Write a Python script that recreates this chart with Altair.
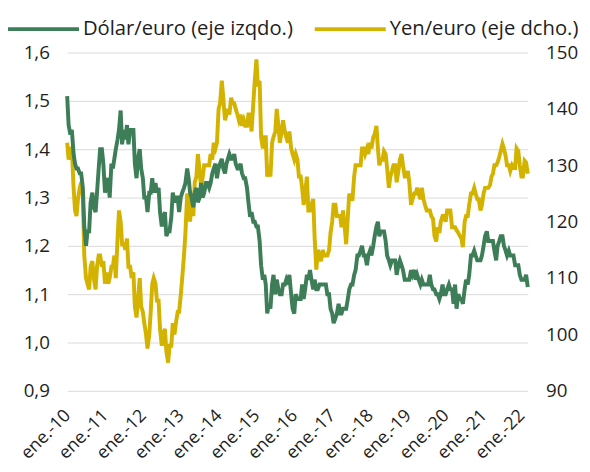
import altair as alt
import pandas as pd

# Semi-monthly readings (1st and 16th of each month), Dec-2009 .. Jan-2022, plus 31-Jan-2022
dolar_euro = (
    [1.51, 1.45]
    + [1.43, 1.44, 1.39, 1.37, 1.36, 1.36, 1.35, 1.35, 1.32, 1.24, 1.20, 1.23,
       1.23, 1.29, 1.31, 1.28, 1.27, 1.31, 1.36, 1.40, 1.40, 1.37, 1.31, 1.33]   # 2010
    + [1.34, 1.30, 1.37, 1.36, 1.38, 1.40, 1.42, 1.44, 1.48, 1.41, 1.44, 1.42,
       1.45, 1.41, 1.44, 1.44, 1.44, 1.37, 1.34, 1.38, 1.40, 1.36, 1.34, 1.30]   # 2011
    + [1.30, 1.27, 1.31, 1.31, 1.34, 1.31, 1.33, 1.31, 1.32, 1.27, 1.24, 1.26,
       1.27, 1.22, 1.23, 1.23, 1.26, 1.31, 1.29, 1.30, 1.30, 1.27, 1.30, 1.31]   # 2012
    + [1.32, 1.33, 1.36, 1.34, 1.31, 1.30, 1.28, 1.31, 1.32, 1.29, 1.30, 1.33,
       1.30, 1.31, 1.33, 1.33, 1.32, 1.33, 1.35, 1.36, 1.37, 1.34, 1.36, 1.37]   # 2013
    + [1.38, 1.36, 1.35, 1.37, 1.38, 1.39, 1.38, 1.38, 1.39, 1.37, 1.36, 1.36,
       1.37, 1.35, 1.34, 1.34, 1.32, 1.29, 1.26, 1.27, 1.25, 1.25, 1.24, 1.24]   # 2014
    + [1.21, 1.16, 1.13, 1.14, 1.12, 1.06, 1.08, 1.07, 1.12, 1.14, 1.10, 1.13,
       1.11, 1.10, 1.10, 1.12, 1.12, 1.13, 1.12, 1.14, 1.10, 1.07, 1.06, 1.10]   # 2015
    + [1.09, 1.09, 1.09, 1.12, 1.09, 1.11, 1.14, 1.13, 1.15, 1.13, 1.11, 1.13,
       1.11, 1.11, 1.12, 1.12, 1.12, 1.12, 1.12, 1.10, 1.10, 1.07, 1.06, 1.04]   # 2016
    + [1.05, 1.06, 1.08, 1.06, 1.06, 1.07, 1.07, 1.07, 1.09, 1.11, 1.12, 1.12,
       1.14, 1.15, 1.18, 1.18, 1.19, 1.20, 1.18, 1.18, 1.16, 1.18, 1.19, 1.18]   # 2017
    + [1.20, 1.22, 1.24, 1.25, 1.22, 1.23, 1.23, 1.23, 1.21, 1.18, 1.17, 1.16,
       1.17, 1.17, 1.17, 1.14, 1.16, 1.17, 1.16, 1.15, 1.13, 1.13, 1.13, 1.13]   # 2018
    + [1.15, 1.14, 1.15, 1.13, 1.14, 1.13, 1.12, 1.13, 1.12, 1.12, 1.12, 1.12,
       1.14, 1.12, 1.11, 1.11, 1.10, 1.10, 1.09, 1.10, 1.12, 1.10, 1.10, 1.11]   # 2019
    + [1.12, 1.11, 1.11, 1.08, 1.12, 1.07, 1.10, 1.09, 1.09, 1.08, 1.11, 1.13,
       1.12, 1.14, 1.18, 1.18, 1.19, 1.18, 1.17, 1.17, 1.17, 1.18, 1.20, 1.22]   # 2020
    + [1.23, 1.21, 1.21, 1.21, 1.21, 1.19, 1.17, 1.20, 1.21, 1.22, 1.22, 1.20,
       1.19, 1.18, 1.19, 1.18, 1.18, 1.18, 1.16, 1.16, 1.16, 1.14, 1.13, 1.13]   # 2021
    + [1.13, 1.14, 1.115]                                                        # 2022
)

yen_euro = (
    [134, 131]
    + [133, 133, 126, 122, 121, 124, 126, 127, 125, 114, 110, 109,
       108, 112, 113, 110, 108, 112, 114, 114, 112, 113, 109, 111]   # 2010
    + [109, 110, 112, 112, 114, 110, 117, 122, 120, 116, 116, 115,
       117, 112, 112, 110, 111, 105, 103, 106, 110, 105, 104, 102]   # 2011
    + [100, 97.5, 100, 104, 109, 110, 109, 106, 106, 101, 98, 100,
       101, 97, 95, 98, 98, 102, 100, 102, 104, 104, 107, 110]       # 2012
    + [114, 118, 125, 124, 120, 124, 121, 127, 128, 132, 129, 126,
       128, 130, 130, 130, 130, 132, 131, 134, 133, 134, 140, 141]   # 2013
    + [145, 142, 138, 139, 140, 139, 142, 141, 141, 140, 139, 138,
       139, 137, 138, 137, 137, 139, 139, 136, 141, 145, 148.8, 144] # 2014
    + [145, 135, 133, 135, 135, 128, 130, 128, 134, 135, 136, 140,
       137, 134, 136, 138, 136, 135, 134, 136, 133, 132, 131, 132]   # 2015
    + [131, 128, 128, 126, 123, 125, 128, 122, 122, 123, 124, 117,
       111.5, 115, 114, 113, 115, 114, 114, 114, 115, 118, 120, 123] # 2016
    + [123, 121, 121, 121, 119, 122, 119, 116, 121, 125, 124, 124,
       128, 130, 130, 130, 130, 133, 133, 132, 133, 132, 134, 133]   # 2017
    + [135, 135.5, 137, 133, 130, 131, 131, 132.5, 132, 129.5, 126, 128,
       129, 130, 130, 127, 129, 131, 132, 130, 128, 128, 129, 127]   # 2018
    + [123, 124, 125, 125, 126, 125, 124, 126, 124, 123, 122, 122,
       122, 121, 120.5, 117.5, 116.5, 119, 118, 120, 121, 121, 120, 122]  # 2019
    + [122, 122, 119, 119, 119, 118.5, 118, 117.5, 117, 115.5, 120, 121,
       121, 123, 125, 125, 126, 125, 124, 124, 122, 123, 125, 126]   # 2020
    + [126, 126, 126.5, 128, 128.5, 130, 130, 130.5, 131.5, 132.5, 133.8, 133,
       131.7, 130, 130, 129, 130, 129.5, 129.5, 133, 132.5, 130, 128, 128]  # 2021
    + [130.8, 130.5, 128.5]                                              # 2022
)

fechas = list(pd.date_range("2009-12-01", periods=len(dolar_euro) - 1, freq="SMS").strftime("%Y-%m-%d")) + ["2022-01-31"]

serie_usd = "Dólar/euro (eje izqdo.)"
serie_jpy = "Yen/euro (eje dcho.)"
colores = ["#3D7D57", "#D4B200"]

df = pd.DataFrame({"fecha": fechas, "usd": dolar_euro, "jpy": yen_euro})

FONT = "Open Sans"
TXT = "#1e1e1e"
years = list(range(2010, 2023))

x_enc = alt.X(
    "fecha:T",
    scale=alt.Scale(
        type="utc",
        domain=[alt.DateTime(year=2009, month=12, date=1, utc=True),
                alt.DateTime(year=2022, month=1, date=31, utc=True)],
        nice=False,
    ),
    axis=alt.Axis(
        values=[alt.DateTime(year=y, month=1, date=1, utc=True) for y in years],
        labelExpr="'ene.-' + utcFormat(datum.value, '%y')",
        labelAngle=-45, labelAlign="right", labelBaseline="middle",
        labelPadding=22, labelOffset=-3, ticks=False, domain=False, grid=False,
        labelFontSize=18, labelColor=TXT, title=None, labelOverlap=False,
    ),
)

color_scale = alt.Scale(domain=[serie_usd, serie_jpy], range=colores)
legend = alt.Legend(
    title=None, orient="none", direction="horizontal",
    legendX=-62, legendY=-62,
    symbolType="stroke", symbolSize=5184, symbolStrokeWidth=4,
    labelFontSize=20.5, labelColor=TXT, labelFont=FONT,
    columnPadding=14, labelOffset=2, labelLimit=400,
)

izq = alt.Chart(df).mark_line(strokeWidth=4).encode(
    x=x_enc,
    y=alt.Y("usd:Q",
            scale=alt.Scale(domain=[0.9, 1.6], nice=False, zero=False),
            axis=alt.Axis(values=[0.9, 1.0, 1.1, 1.2, 1.3, 1.4, 1.5, 1.6],
                          labelExpr="replace(format(datum.value, '.1f'), '.', ',')",
                          grid=True, gridColor="#d9d9d9", gridWidth=1,
                          ticks=False, domain=False, labelPadding=18,
                          labelFontSize=19, labelColor=TXT, title=None)),
    color=alt.Color("s:N", scale=color_scale, legend=legend),
).transform_calculate(s=f"'{serie_usd}'")

dcha = alt.Chart(df).mark_line(strokeWidth=4).encode(
    x=x_enc,
    y=alt.Y("jpy:Q",
            scale=alt.Scale(domain=[90, 150], nice=False, zero=False),
            axis=alt.Axis(orient="right", values=[90, 100, 110, 120, 130, 140, 150],
                          grid=False, ticks=False, domain=False, labelPadding=18,
                          labelFontSize=19, labelColor=TXT, title=None)),
    color=alt.Color("s:N", scale=color_scale, legend=legend),
).transform_calculate(s=f"'{serie_jpy}'")

chart = (
    alt.layer(dcha, izq)
    .resolve_scale(y="independent")
    .properties(width=467, height=343,
                autosize=alt.AutoSizeParams(type="none"),
                padding={"left": 60, "top": 42, "right": 55, "bottom": 70})
    .configure(font=FONT)
    .configure_view(stroke=None)
)

chart.save("out.html", embed_options={"renderer": "svg", "actions": False})
